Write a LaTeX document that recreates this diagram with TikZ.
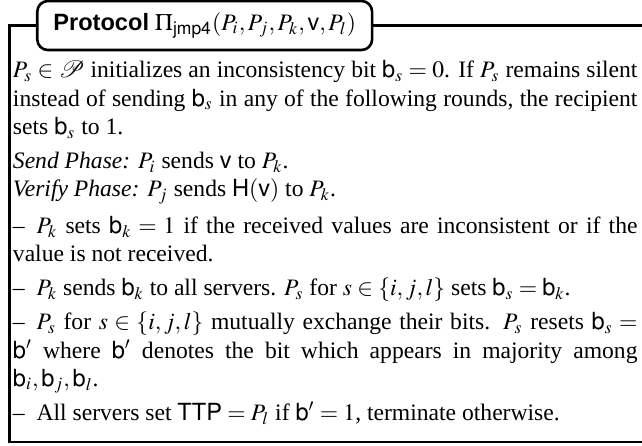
\documentclass[tikz,border=0pt]{standalone}
\usepackage{mathptmx}
\usepackage[no-math]{fontspec}
\setmainfont{Liberation Serif}
\setsansfont{Liberation Sans}
\DeclareMathAlphabet{\mathsf}{OT1}{phv}{m}{n}
\newcommand{\bit}{\mathsf{b}}
\newcommand{\itemgap}[1]{\par\vspace{#1}}
\tikzset{
  frame/.style={line width=1.1pt},
  title/.style={draw, frame, rounded corners=4.5pt, fill=white,
    minimum height=0.73cm, inner xsep=6.8pt, inner ysep=0pt},
  body/.style={text width=9.3cm, align=justify, inner sep=0pt}
}
\begin{document}
\begin{tikzpicture}
      \useasboundingbox (0,0) rectangle (9.56,-6.627);
      \draw
        (0.536,-0.38) node[title, anchor=west] (title){\textbf{\sffamily Protocol} $\Pi_{\mathsf{jmp4}}(P_i,P_j,P_k,\mathsf{v},P_l)$}
        (0.1415,-0.38) coordinate (tl)
        (0.1415,-6.582) coordinate (bl)
        (9.56,-6.582) coordinate (br)
        (9.56,-0.38) coordinate (tr);
      \begin{scope}[frame]
        \draw (title.west) -- (tl) -- (bl) -- (br);
        \draw (title.east) -- (tr);
      \end{scope}
      \node[body, anchor=base west] (steps) at (0.186,-1.161) {%
        $P_s \in \mathcal{P}$ initializes an inconsistency bit $\bit_s = 0$. If $P_s$ remains silent\linebreak
        instead of sending $\bit_s$ in any of the following rounds, the recipient\linebreak
        sets $\bit_s$ to 1.
        \itemgap{2.4pt}
        \textit{Send Phase:} $P_i$ sends $\mathsf{v}$ to $P_k$.\par
        \textit{Verify Phase:} $P_j$ sends $\mathsf{H}(\mathsf{v})$ to $P_k$.
        \itemgap{3.5pt}
        --\enspace $P_k$ sets $\bit_k = 1$ if the received values are inconsistent or if the\linebreak
        value is not received.
        \itemgap{2.4pt}
        --\enspace $P_k$ sends $\bit_k$ to all servers. $P_s$ for $s \in \{i,j,l\}$ sets $\bit_s = \bit_k$.
        \itemgap{2.4pt}
        --\enspace $P_s$ for $s \in \{i,j,l\}$ mutually exchange their bits. $P_s$ resets $\bit_s =$\linebreak
        $\bit'$ where $\bit'$ denotes the bit which appears in majority among\linebreak
        $\bit_i,\bit_j,\bit_l$.
        \itemgap{2.4pt}
        --\enspace All servers set $\mathsf{TTP} = P_l$ if $\bit' = 1$, terminate otherwise.};
    \end{tikzpicture}
\end{document}
